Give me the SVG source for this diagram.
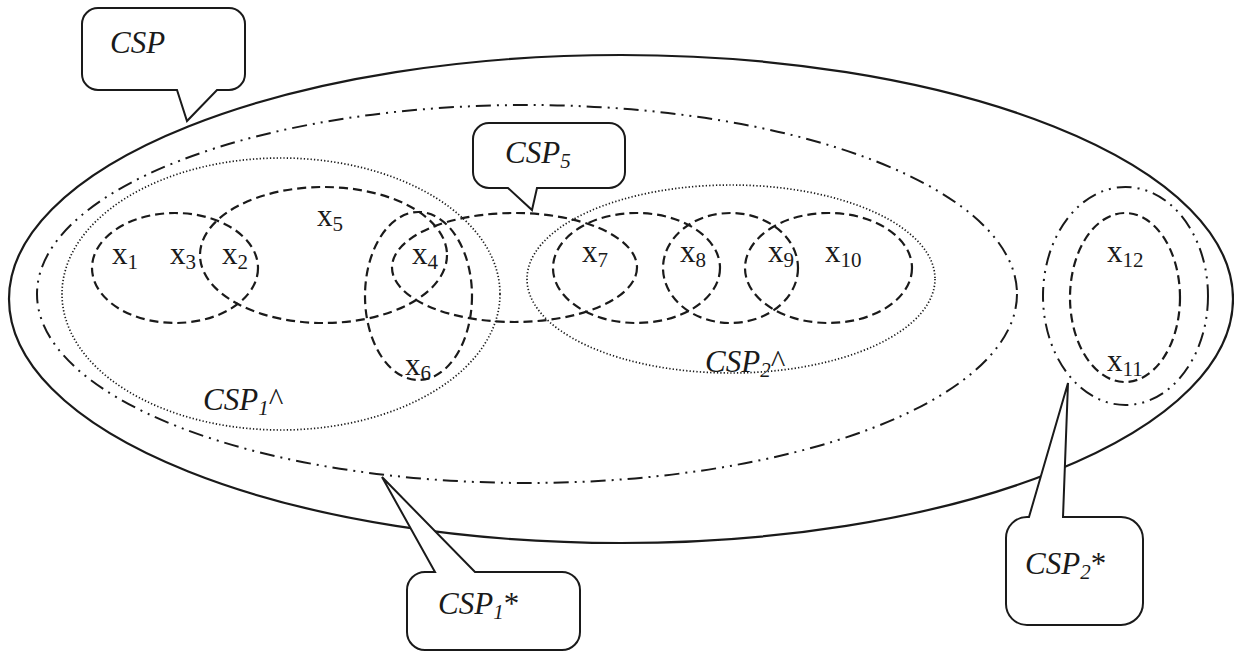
<svg xmlns="http://www.w3.org/2000/svg" width="1234" height="653" viewBox="0 0 1234 653">
  <style>
    .solid { fill: none; stroke: #1a1a1a; stroke-width: 2.2; }
    .dash { fill: none; stroke: #1a1a1a; stroke-width: 2.2; stroke-dasharray: 9 5; }
    .dashdot { fill: none; stroke: #1a1a1a; stroke-width: 2; stroke-dasharray: 15 6 2 6 2 6; }
    .dot { fill: none; stroke: #1a1a1a; stroke-width: 1.7; stroke-dasharray: 1.3 2.1; }
    .callout { fill: #ffffff; stroke: #1a1a1a; stroke-width: 2; stroke-linejoin: miter; }
    .lbl { font-family: "Liberation Serif", "Times New Roman", serif; font-size: 31px; fill: #1a1a1a; }
    .it { font-style: italic; }
    .sub { font-size: 21px; }
  </style>
  <rect width="1234" height="653" fill="#ffffff"/>

  <g id="csp-outer"><ellipse class="solid" cx="621" cy="299" rx="612" ry="244"/></g>
  <g id="csp1-star-set"><ellipse class="dashdot" cx="527" cy="294" rx="490" ry="189"/></g>
  <g id="csp2-star-set"><ellipse class="dashdot" cx="1125.5" cy="296" rx="82.5" ry="109"/></g>
  <g id="csp1-hat-set"><ellipse class="dot" cx="281" cy="294" rx="219" ry="136"/></g>
  <g id="csp2-hat-set"><ellipse class="dot" cx="731" cy="279" rx="204" ry="94"/></g>

  <g id="c-x1x3x2"><ellipse class="dash" cx="175" cy="268" rx="83" ry="55"/></g>
  <g id="c-x2x5x4"><ellipse class="dash" cx="323.5" cy="255" rx="123.5" ry="68"/></g>
  <g id="c-x4x6"><ellipse class="dash" cx="418.5" cy="296" rx="53.5" ry="84"/></g>
  <g id="c-x4x7"><ellipse class="dash" cx="514.5" cy="267.5" rx="122.5" ry="54.5"/></g>
  <g id="c-x7x8"><ellipse class="dash" cx="636.5" cy="268" rx="83.5" ry="55"/></g>
  <g id="c-x8x9"><ellipse class="dash" cx="730.5" cy="268" rx="67.5" ry="55"/></g>
  <g id="c-x9x10"><ellipse class="dash" cx="828.5" cy="268" rx="83.5" ry="55"/></g>
  <g id="c-x11x12"><ellipse class="dash" cx="1125" cy="297.5" rx="55" ry="84.5"/></g>

  <g id="variables">
    <text class="lbl" x="112" y="264">x<tspan class="sub" dy="5">1</tspan></text>
    <text class="lbl" x="170" y="264">x<tspan class="sub" dy="5">3</tspan></text>
    <text class="lbl" x="222" y="264">x<tspan class="sub" dy="5">2</tspan></text>
    <text class="lbl" x="317" y="226">x<tspan class="sub" dy="5">5</tspan></text>
    <text class="lbl" x="412" y="264">x<tspan class="sub" dy="5">4</tspan></text>
    <text class="lbl" x="405" y="375">x<tspan class="sub" dy="5">6</tspan></text>
    <text class="lbl" x="582" y="262">x<tspan class="sub" dy="5">7</tspan></text>
    <text class="lbl" x="680" y="262">x<tspan class="sub" dy="5">8</tspan></text>
    <text class="lbl" x="768" y="262">x<tspan class="sub" dy="5">9</tspan></text>
    <text class="lbl" x="825" y="262">x<tspan class="sub" dy="5">10</tspan></text>
    <text class="lbl" x="1107" y="262">x<tspan class="sub" dy="5">12</tspan></text>
    <text class="lbl" x="1107" y="371">x<tspan class="sub" dy="5">11</tspan></text>
  </g>

  <g id="set-labels">
    <text class="lbl it" x="203" y="410">CSP<tspan class="sub" dy="5">1</tspan><tspan dy="-5" font-style="normal">^</tspan></text>
    <text class="lbl it" x="705" y="372">CSP<tspan class="sub" dy="5">2</tspan><tspan dy="-5" font-style="normal">^</tspan></text>
  </g>

  <g id="callout-csp">
    <path class="callout" d="M 98,8 H 229 A 16 16 0 0 1 245 24 V 74 A 16 16 0 0 1 229 90 H 217 L 187 121 L 177 90 H 98 A 16 16 0 0 1 82 74 V 24 A 16 16 0 0 1 98 8 Z"/>
    <text class="lbl it" x="110" y="53">CSP</text>
  </g>
  <g id="callout-csp5">
    <path class="callout" d="M 489,123 H 609 A 16 16 0 0 1 625 139 V 172 A 16 16 0 0 1 609 188 H 537 L 532 210 L 508 188 H 489 A 16 16 0 0 1 473 172 V 139 A 16 16 0 0 1 489 123 Z"/>
    <text class="lbl it" x="505" y="163">CSP<tspan class="sub" dy="5">5</tspan></text>
  </g>
  <g id="callout-csp1-star">
    <path class="callout" d="M 425,572 H 435 L 382 477 L 475 572 H 562 A 18 18 0 0 1 580 590 V 632 A 18 18 0 0 1 562 650 H 425 A 18 18 0 0 1 407 632 V 590 A 18 18 0 0 1 425 572 Z"/>
    <text class="lbl it" x="438" y="614">CSP<tspan class="sub" dy="5">1</tspan><tspan dy="-5" font-style="normal">*</tspan></text>
  </g>
  <g id="callout-csp2-star">
    <path class="callout" d="M 1027,517 H 1029 L 1068 383 L 1063 517 H 1121 A 22 22 0 0 1 1143 539 V 603 A 22 22 0 0 1 1121 625 H 1027 A 21 21 0 0 1 1006 604 V 538 A 21 21 0 0 1 1027 517 Z"/>
    <text class="lbl it" x="1025" y="574">CSP<tspan class="sub" dy="5">2</tspan><tspan dy="-5" font-style="normal">*</tspan></text>
  </g>
</svg>
